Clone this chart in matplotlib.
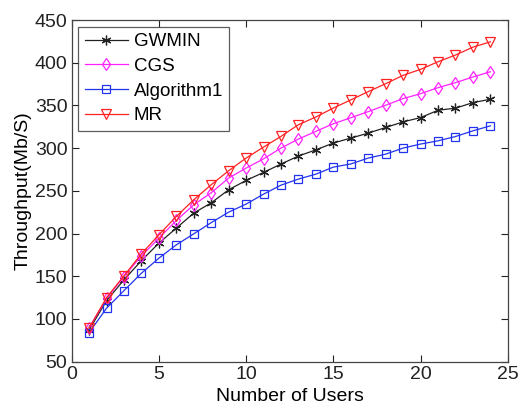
import matplotlib
matplotlib.use("Agg")
import matplotlib.pyplot as plt

users = list(range(1, 25))
gwmin = [87.2, 121.5, 145.8, 168.4, 188.8, 206.4, 224.0, 236.0, 251.3, 262.2, 271.6, 281.4,
         290.8, 298.0, 306.0, 311.8, 317.6, 324.2, 330.8, 335.8, 344.4, 346.8, 353.3, 357.3]
cgs = [89.6, 124.0, 149.7, 173.9, 194.6, 215.3, 233.7, 247.8, 265.0, 276.7, 287.5, 300.1,
       310.7, 319.7, 328.6, 335.6, 342.8, 350.3, 358.0, 363.8, 370.8, 376.7, 383.3, 389.5]
alg1 = [84.0, 112.6, 133.2, 153.6, 171.2, 186.8, 199.7, 212.8, 225.1, 234.5, 246.2, 256.7,
        263.8, 269.6, 277.8, 281.5, 288.4, 293.0, 300.1, 304.8, 308.6, 313.6, 320.3, 326.1]
mr = [89.2, 125.0, 150.5, 176.3, 198.5, 220.0, 239.6, 257.2, 273.6, 288.4, 301.3, 313.8,
      327.5, 336.5, 347.0, 356.5, 366.2, 375.5, 385.3, 392.3, 401.2, 409.0, 418.3, 424.5]

series_labels = ["GWMIN", "CGS", "Algorithm1", "MR"]
xticks = [0, 5, 10, 15, 20, 25]
yticks = [50, 100, 150, 200, 250, 300, 350, 400, 450]

plt.rcParams['font.family'] = ['Liberation Sans', 'DejaVu Sans']

fig = plt.figure(figsize=(5.23, 4.09), dpi=100)
ax = fig.add_axes([0.137, 0.1157, 0.834, 0.8353])

ms = 6
lw = 0.9
ax.plot(users, gwmin, color='#222222', marker=(6, 2, 0), markersize=ms + 1, linewidth=lw,
        markeredgewidth=0.9, label=series_labels[0])
ax.plot(users, cgs, color='#ff22ff', marker='d', markersize=ms, linewidth=lw,
        markerfacecolor='none', markeredgewidth=0.9, label=series_labels[1])
ax.plot(users, alg1, color='#2233ee', marker='s', markersize=ms - 0.5, linewidth=lw,
        markerfacecolor='none', markeredgewidth=0.9, label=series_labels[2])
ax.plot(users, mr, color='#ff2222', marker='v', markersize=ms + 0.5, linewidth=lw,
        markerfacecolor='none', markeredgewidth=0.9, label=series_labels[3])

ax.set_xlim(0, 25)
ax.set_ylim(50, 450)
ax.set_xticks(xticks)
ax.set_yticks(yticks)
ax.tick_params(direction='in', length=5, width=0.8, top=True, right=True,
               labelsize=14, colors='#222222', pad=3)
for s in ax.spines.values():
    s.set_color('#444444')
    s.set_linewidth(0.9)

ax.set_xlabel("Number of Users", fontsize=14, labelpad=4)
ax.set_ylabel("Throughput(Mb/S)", fontsize=14, labelpad=2)

leg = ax.legend(loc='upper left', fontsize=13.5, frameon=True, fancybox=False,
                edgecolor='#333333', borderpad=0.35, labelspacing=0.4,
                handlelength=2.3, handletextpad=0.3, borderaxespad=0.35)
leg.get_frame().set_linewidth(0.9)

fig.savefig("out.png", dpi=100)
